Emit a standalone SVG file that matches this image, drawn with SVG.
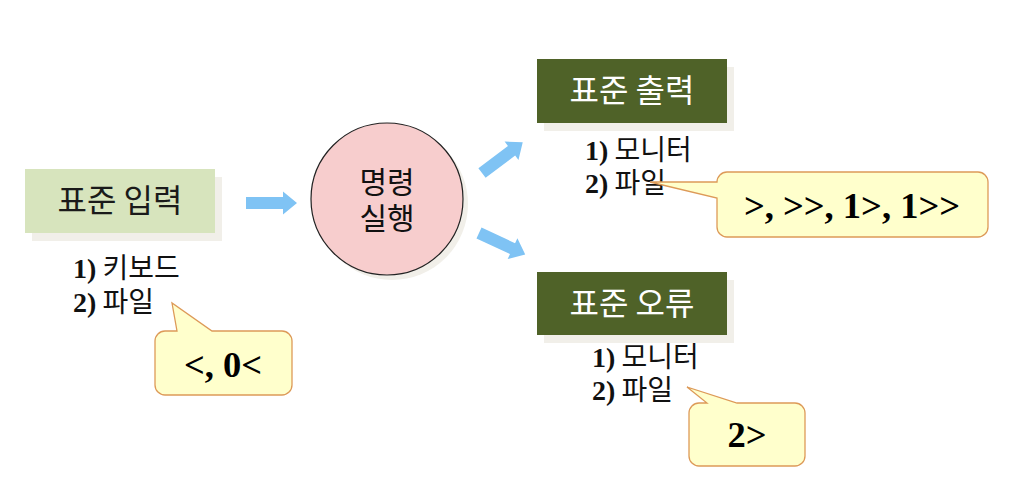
<svg xmlns="http://www.w3.org/2000/svg" xmlns:xlink="http://www.w3.org/1999/xlink" width="1012" height="488" viewBox="0 0 1012 488">
<style>
.shadow{fill:#f1efe9}
.ko{font-family:"Noto Sans CJK KR","Noto Sans",sans-serif}
.title{font-size:32px;text-anchor:middle}
.list{font-size:28px;fill:#111}
.num{font-family:"Liberation Serif",serif;font-weight:bold}
.callout{fill:#ffffcc;stroke:#dd9a58;stroke-width:1.3}
.ctext{font-family:"Liberation Serif",serif;font-weight:bold;font-size:36.5px;text-anchor:middle;fill:#000}
.arrow{fill:#7fc3f4}
</style>
<defs>
<path id="arr" d="M0,-6 H37 V-11.5 L51,0 L37,11.5 V6 H0 Z"/>
</defs>
<rect width="1012" height="488" fill="#ffffff"/>

<g id="connectors" class="arrow">
<use xlink:href="#arr" transform="translate(246,203)"/>
<use xlink:href="#arr" transform="translate(482,173) rotate(-37)"/>
<use xlink:href="#arr" transform="translate(479,233) rotate(25)"/>
</g>

<g id="stdin">
<rect class="shadow" x="32" y="177" width="190" height="64"/>
<rect x="25" y="169" width="190" height="64" fill="#d7e4bd"/>
<text class="ko title" x="120" y="212" fill="#1a1a1a">표준 입력</text>
</g>
<g id="stdin-list" class="ko list">
<text x="73" y="278"><tspan class="num">1)</tspan> 키보드</text>
<text x="73" y="312"><tspan class="num">2)</tspan> 파일</text>
</g>
<g id="stdin-callout">
<path class="callout" d="M165,331 H177 L172,303 L212,331 H282 A10,10 0 0 1 292,341 V385 A10,10 0 0 1 282,395 H165 A10,10 0 0 1 155,385 V341 A10,10 0 0 1 165,331 Z"/>
<text class="ctext" x="223" y="377">&lt;, 0&lt;</text>
</g>

<g id="command">
<circle cx="392" cy="204" r="76" class="shadow"/>
<circle cx="387" cy="199" r="76" fill="#f7cdcd" stroke="#222" stroke-width="1.2"/>
<text class="ko" x="387" y="193" font-size="30" text-anchor="middle" fill="#111">명령</text>
<text class="ko" x="387" y="229" font-size="30" text-anchor="middle" fill="#111">실행</text>
</g>

<g id="stdout">
<rect class="shadow" x="544" y="67" width="190" height="64"/>
<rect x="537" y="59" width="190" height="64" fill="#4f6228"/>
<text class="ko title" x="632" y="102" fill="#ffffff">표준 출력</text>
</g>
<g id="stdout-list" class="ko list">
<text x="585" y="160"><tspan class="num">1)</tspan>  모니터</text>
<text x="585" y="193"><tspan class="num">2)</tspan>  파일</text>
</g>
<g id="stdout-callout">
<path class="callout" d="M727,172 H978 A10,10 0 0 1 988,182 V227 A10,10 0 0 1 978,237 H727 A10,10 0 0 1 717,227 V198 L650,182 L717,182 A10,10 0 0 1 727,172 Z"/>
<text class="ctext" x="852" y="218">&gt;, &gt;&gt;, 1&gt;, 1&gt;&gt;</text>
</g>

<g id="stderr">
<rect class="shadow" x="544" y="280" width="190" height="63"/>
<rect x="537" y="272" width="190" height="63" fill="#4f6228"/>
<text class="ko title" x="632" y="315" fill="#ffffff">표준 오류</text>
</g>
<g id="stderr-list" class="ko list">
<text x="592" y="367"><tspan class="num">1)</tspan>  모니터</text>
<text x="592" y="400"><tspan class="num">2)</tspan>  파일</text>
</g>
<g id="stderr-callout">
<path class="callout" d="M699,403 H707 L687,387 L737,403 H795 A10,10 0 0 1 805,413 V456 A10,10 0 0 1 795,466 H699 A10,10 0 0 1 689,456 V413 A10,10 0 0 1 699,403 Z"/>
<text class="ctext" x="747" y="447">2&gt;</text>
</g>
</svg>
